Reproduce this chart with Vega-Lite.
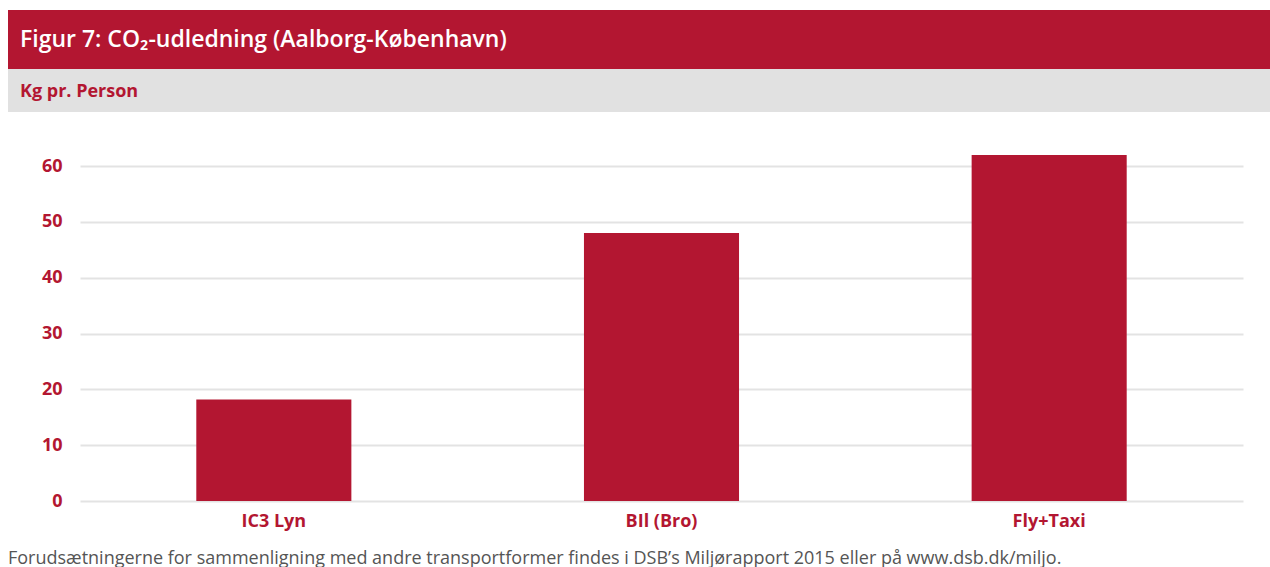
{
  "$schema": "https://vega.github.io/schema/vega-lite/v6.json",
  "padding": {"left": 8, "top": 10, "right": 0, "bottom": 0},
  "background": "white",
  "config": {
    "font": "Open Sans",
    "view": {"stroke": null},
    "concat": {"spacing": 0}
  },
  "spacing": 0,
  "vconcat": [
    {
      "width": 1262,
      "height": 59,
      "view": {"fill": "#B31631", "stroke": null},
      "title": {
        "text": "Figur 7: CO₂-udledning (Aalborg-København)",
        "orient": "bottom",
        "anchor": "start",
        "frame": "group",
        "baseline": "alphabetic",
        "offset": -22,
        "dx": 12,
        "color": "#FFFFFF",
        "fontSize": 23,
        "fontWeight": 600,
        "font": "Open Sans"
      },
      "data": {"values": [{"t": ""}]},
      "mark": {"type": "text"},
      "encoding": {"text": {"field": "t"}}
    },
    {
      "width": 1262,
      "height": 43,
      "view": {"fill": "#E1E1E1", "stroke": null},
      "title": {
        "text": "Kg pr. Person",
        "orient": "bottom",
        "anchor": "start",
        "frame": "group",
        "baseline": "alphabetic",
        "offset": -15,
        "dx": 12,
        "color": "#B31631",
        "fontSize": 18,
        "fontWeight": "bold",
        "font": "Open Sans"
      },
      "data": {"values": [{"t": ""}]},
      "mark": {"type": "text"},
      "encoding": {"text": {"field": "t"}}
    },
    {
      "spacing": 0,
      "hconcat": [
        {
          "width": 1,
          "height": 40,
          "data": {"values": [{"t": ""}]},
          "mark": {"type": "text"},
          "encoding": {"text": {"field": "t"}}
        },
        {
          "width": 1163,
          "height": 389,
          "data": {
            "values": [
              {"transport": "IC3 Lyn", "kg": 18.2},
              {"transport": "BIl (Bro)", "kg": 48},
              {"transport": "Fly+Taxi", "kg": 62}
            ]
          },
          "mark": {"type": "bar", "color": "#B31631"},
          "encoding": {
            "x": {
              "field": "transport",
              "type": "nominal",
              "sort": null,
              "scale": {"paddingInner": 0.6, "paddingOuter": 0.3},
              "axis": {
                "title": null,
                "labelAngle": 0,
                "labelColor": "#B31631",
                "labelFont": "Open Sans",
                "labelFontSize": 18,
                "labelFontWeight": "bold",
                "labelPadding": 11,
                "ticks": false,
                "domain": false
              }
            },
            "y": {
              "field": "kg",
              "type": "quantitative",
              "scale": {"domain": [0, 69.7], "nice": false},
              "axis": {
                "title": null,
                "values": [0, 10, 20, 30, 40, 50, 60],
                "labelColor": "#B31631",
                "labelFont": "Open Sans",
                "labelFontSize": 18,
                "labelFontWeight": "bold",
                "labelPadding": 18,
                "minExtent": 71,
                "ticks": false,
                "domain": false,
                "gridColor": "#E3E3E3",
                "gridWidth": 2
              }
            }
          }
        }
      ]
    },
    {
      "width": 1262,
      "height": 20,
      "title": {
        "text": "Forudsætningerne for sammenligning med andre transportformer findes i DSB’s Miljørapport 2015 eller på www.dsb.dk/miljo.",
        "orient": "bottom",
        "anchor": "start",
        "frame": "group",
        "baseline": "alphabetic",
        "offset": 14,
        "color": "#555555",
        "fontSize": 18,
        "fontWeight": "normal",
        "font": "Open Sans"
      },
      "data": {"values": [{"t": ""}]},
      "mark": {"type": "text"},
      "encoding": {"text": {"field": "t"}}
    }
  ]
}
